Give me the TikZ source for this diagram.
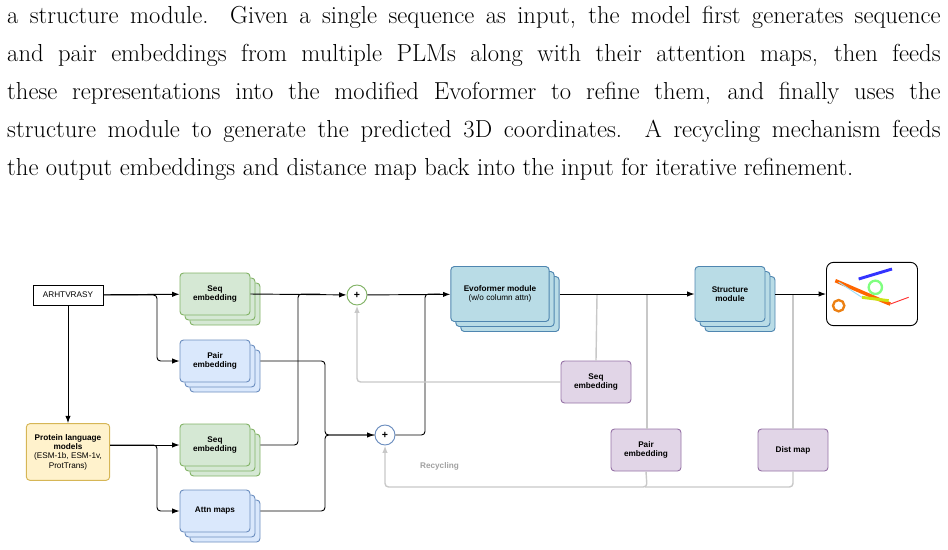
\documentclass[tikz,border=0pt]{standalone}
\usepackage{fontspec}
\newfontfamily\diag{Liberation Sans}
\usetikzlibrary{positioning,shadows,arrows.meta}
\definecolor{grnfill}{HTML}{D5E8D4}\definecolor{grnline}{HTML}{82B366}
\definecolor{blufill}{HTML}{DAE8FC}\definecolor{bluline}{HTML}{6C8EBF}
\definecolor{evofill}{HTML}{B9DCE6}\definecolor{evoline}{HTML}{4F86B0}
\definecolor{ylwfill}{HTML}{FFF2CC}\definecolor{ylwline}{HTML}{D6B656}
\definecolor{purfill}{HTML}{E1D5E7}\definecolor{purline}{HTML}{9673A6}
\definecolor{recyc}{HTML}{C8C8C8}
\begin{document}
\begin{tikzpicture}[
        x=0.03cm, y=-0.03cm,
        every node/.style={font=\diag\bfseries\fontsize{7}{8}\selectfont, align=center},
        box/.style={draw, line width=0.8pt, rounded corners=3pt, minimum width=2.1cm, minimum height=1.26cm, inner sep=1pt},
        stack/.style={box, double copy shadow={shadow xshift=1.5mm, shadow yshift=-1.5mm}},
        seqbox/.style={stack, fill=grnfill, draw=grnline},
        pairbox/.style={stack, fill=blufill, draw=bluline},
        purbox/.style={box, fill=purfill, draw=purline},
        plus/.style={circle, draw, line width=0.8pt, fill=white, minimum size=0.6cm, inner sep=0pt, font=\diag\bfseries\fontsize{9}{9}\selectfont},
        arrow/.style={-{Latex[length=2.2mm,width=1.6mm]}, thick, rounded corners=3pt},
        link/.style={thick, rounded corners=3pt},
        recycle/.style={-{Latex[length=2.2mm,width=1.6mm]}, very thick, draw=recyc, rounded corners=3pt},
        grayline/.style={very thick, draw=recyc, rounded corners=3pt}
    ]
        \useasboundingbox (0,0) rectangle (948,549);
        % caption text
        \node[anchor=north west, inner sep=0pt, text width=28cm, align=justify,
              font=\rmfamily\fontsize{21}{32.5}\selectfont] (caption) at (7,6)
        {a structure module. Given a single sequence as input, the model first generates sequence\linebreak
        and pair embeddings from multiple PLMs along with their attention maps, then feeds\linebreak
        these representations into the modified Evoformer to refine them, and finally uses the\linebreak
        structure module to generate the predicted 3D coordinates. A recycling mechanism feeds\linebreak
        the output embeddings and distance map back into the input for iterative refinement.};

        % input side
        \node[draw, minimum width=2.1cm, minimum height=0.6cm, font=\diag\fontsize{7}{8}\selectfont] (seq) at (68,295) {ARHTVRASY};
        \node[box, fill=ylwfill, draw=ylwline, minimum width=2.5cm, minimum height=1.7cm] (plm) at (68,452)
            {Protein language\\models\\{\mdseries (ESM-1b, ESM-1v,}\\{\mdseries ProtTrans)}};
        \node[seqbox] (seq1) at (215,294) {Seq\\embedding};
        \node[pairbox] (pair1) at (215,361) {Pair\\embedding};
        \node[seqbox] (seq2) at (215,445) {Seq\\embedding};
        \node[pairbox] (attn) at (215,511) {Attn maps};

        \node[plus, draw=grnline] (add1) at (357,295) {+};
        \node[plus, draw=bluline] (add2) at (385,435) {+};

        % trunk
        \node[stack, fill=evofill, draw=evoline, minimum width=2.95cm, minimum height=1.65cm] (evo) at (500,294)
            {Evoformer module\\{\mdseries (w/o column attn)}};
        \node[stack, fill=evofill, draw=evoline, minimum height=1.65cm] (struct) at (730,294) {Structure\\module};
        \node[draw, thick, rounded corners=6pt, minimum width=2.73cm, minimum height=1.9cm] (prot) at (872,294) {};

        % recycled outputs
        \node[purbox] (seq3) at (596,382) {Seq\\embedding};
        \node[purbox] (pair3) at (646,450) {Pair\\embedding};
        \node[purbox] (dist) at (793,450) {Dist map};
        \node[text=recyc!80!black, anchor=west] (recytxt) at (416,466) {Recycling};

        % predicted structure sketch
        \draw[line width=3pt, draw=orange!80!red] ([xshift=-1.1cm,yshift=0.4cm]prot.center) .. controls +(0.6,0.1) and +(-0.6,0.3) .. ([xshift=0.55cm,yshift=-0.3cm]prot.center);
        \draw[line width=2.5pt, draw=blue!80] ([xshift=-0.4cm,yshift=0.45cm]prot.center) -- ([xshift=0.6cm,yshift=0.75cm]prot.center);
        \draw[line width=2.5pt, draw=yellow!80!green] ([xshift=-0.3cm,yshift=-0.1cm]prot.center) -- ([xshift=0.5cm,yshift=-0.2cm]prot.center);
        \draw[line width=2pt, draw=green!50] ([xshift=0.1cm,yshift=0.2cm]prot.center) circle (0.2cm);
        \draw[line width=2pt, draw=orange!70!brown] ([xshift=-1cm,yshift=-0.35cm]prot.center) circle (0.17cm);
        \draw[thick, draw=cyan!40] ([xshift=-1cm,yshift=0.35cm]prot.center) .. controls +(0.1,-0.5) and +(-0.3,0.1) .. ([xshift=-0.3cm,yshift=-0.1cm]prot.center);
        \draw[thick, draw=red!80] ([xshift=0.55cm,yshift=-0.3cm]prot.center) .. controls +(0.2,0) and +(-0.2,-0.1) .. ([xshift=1.1cm,yshift=-0.1cm]prot.center);

        % black connectors
        \draw[arrow] (seq) -- (seq1);
        \draw[arrow] (seq.east) -| (157,330) |- (pair1);
        \draw[arrow] (seq) -- (plm);
        \draw[arrow] (plm.east |- seq2) -- (seq2);
        \draw[arrow] (plm.east |- seq2) -| (157,480) |- (attn);
        \draw[arrow] (seq1.east) -- (add1);
        \draw[link] (seq2.east) ++(0.3cm,0) -| (298,294) -- (320,294);
        \draw[link] (pair1.east) ++(0.3cm,0) -| (325,400) |- (add2);
        \draw[arrow] (attn.east) ++(0.3cm,0) -| (325,470) |- (add2);
        \draw[arrow] (add1) -- (evo);
        \draw[link] (add2) -| (425,330) |- (440,294);
        \draw[arrow] (evo.east) ++(0.3cm,0) -- (struct);
        \draw[arrow] (struct.east) ++(0.3cm,0) -- (prot);

        % recycling connectors
        \draw[grayline] (597,295) -- (seq3.north);
        \draw[recycle] (seq3.west) -| (add1);
        \draw[grayline] (647,295) -- (647,429);
        \draw[grayline] (dist.north) -- (793,295);
        \draw[recycle] (pair3.south) -- (647,487) -| (add2);
        \draw[grayline] (dist.south) |- (645,487);
\end{tikzpicture}
\end{document}
